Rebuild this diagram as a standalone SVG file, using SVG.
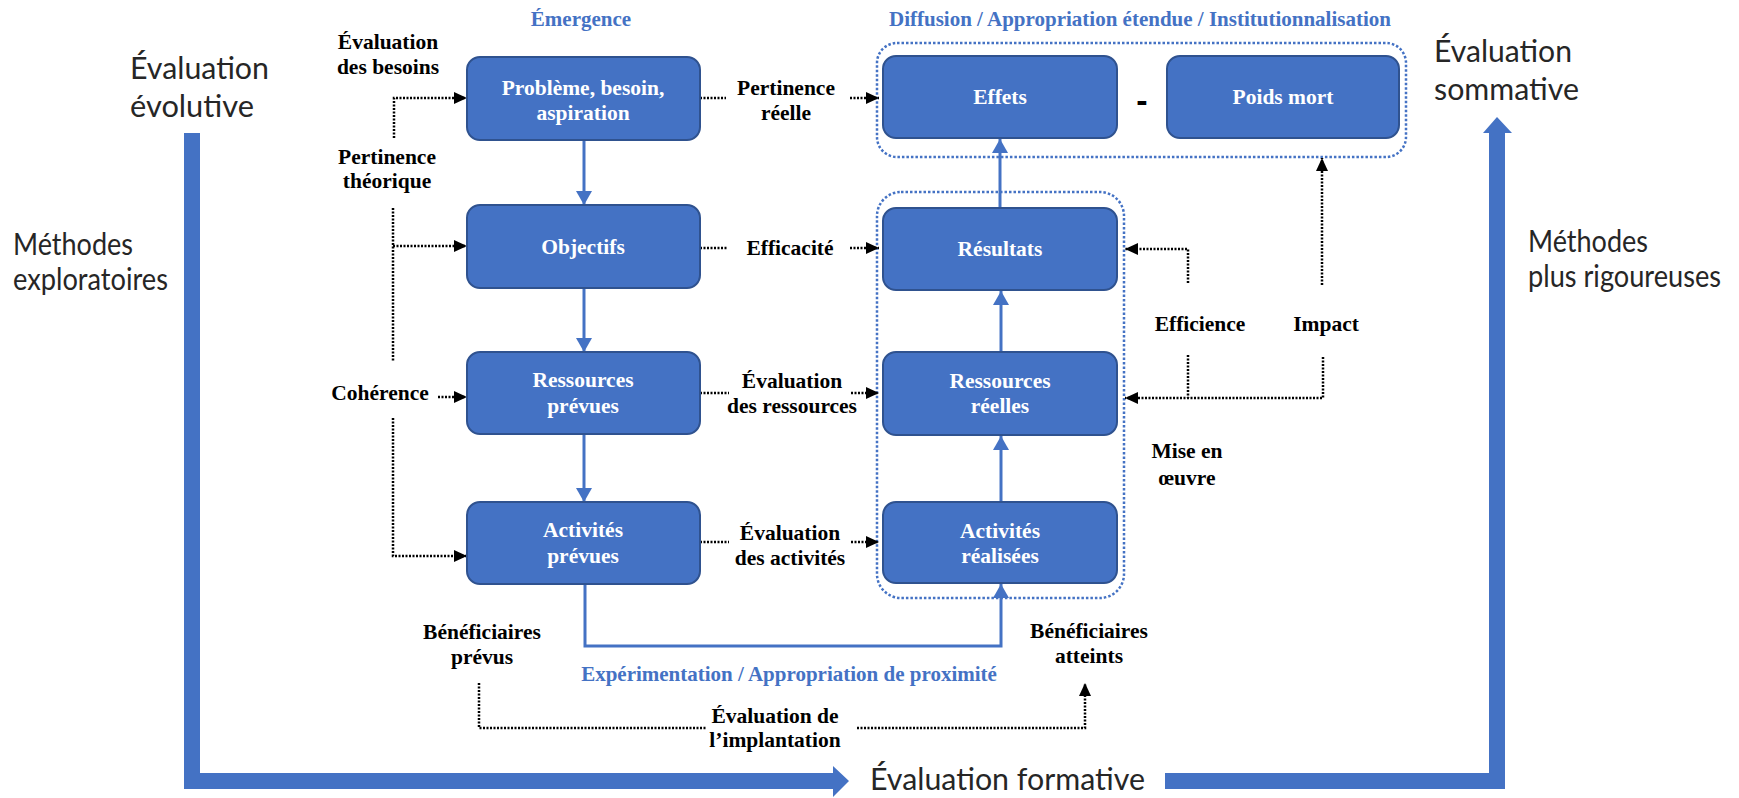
<svg xmlns="http://www.w3.org/2000/svg" width="1739" height="798" viewBox="0 0 1739 798">
<style>
.box{fill:#4472C4;stroke:#2F528F;stroke-width:2}
.bt{font-family:"Liberation Serif","Times New Roman",serif;font-weight:bold;font-size:21.5px;fill:#ffffff;text-anchor:middle}
.lb{font-family:"Liberation Serif","Times New Roman",serif;font-weight:bold;font-size:21.5px;fill:#000000;text-anchor:middle}
.tt{font-family:"Liberation Serif","Times New Roman",serif;font-weight:bold;font-size:21px;fill:#4472C4;text-anchor:middle}
.big{font-family:Lato,"Open Sans",sans-serif;font-size:30px;fill:#262626}
.dot{fill:none;stroke:#000;stroke-width:2.5;stroke-dasharray:2 1.5}
.cont{fill:none;stroke:#4472C4;stroke-width:2.5;stroke-dasharray:2.5 2}
.flow{fill:none;stroke:#4472C4;stroke-width:3}
.bigarrow{fill:#4472C4}
</style>
<defs>
<marker id="ak" viewBox="0 0 13 12" refX="13" refY="6" markerWidth="13" markerHeight="12" markerUnits="userSpaceOnUse" orient="auto"><path d="M0,0 L13,6 L0,12 Z" fill="#000"/></marker>
<marker id="ab" viewBox="0 0 14 16" refX="14" refY="8" markerWidth="14" markerHeight="16" markerUnits="userSpaceOnUse" orient="auto"><path d="M0,0 L14,8 L0,16 Z" fill="#4472C4"/></marker>
</defs>

<!-- big frame arrows -->
<g id="big-arrows">
<path class="bigarrow" d="M184,133 H200 V773 H833 V766 L849,781 L833,797 V789 H184 Z"/>
<path class="bigarrow" d="M1165,773 H1489 V133 H1483 L1497,117 L1512,133 H1505 V789 H1165 Z"/>
</g>

<g id="big-labels">
<text class="big" x="130" y="79" textLength="139" lengthAdjust="spacingAndGlyphs">Évaluation</text>
<text class="big" x="130" y="117" textLength="124" lengthAdjust="spacingAndGlyphs">évolutive</text>
<text class="big" x="13" y="255" textLength="120" lengthAdjust="spacingAndGlyphs">Méthodes</text>
<text class="big" x="13" y="290" textLength="155" lengthAdjust="spacingAndGlyphs">exploratoires</text>
<text class="big" x="1434" y="62" textLength="138" lengthAdjust="spacingAndGlyphs">Évaluation</text>
<text class="big" x="1434" y="100" textLength="145" lengthAdjust="spacingAndGlyphs">sommative</text>
<text class="big" x="1528" y="252" textLength="120" lengthAdjust="spacingAndGlyphs">Méthodes</text>
<text class="big" x="1528" y="287" textLength="193" lengthAdjust="spacingAndGlyphs">plus rigoureuses</text>
<text class="big" x="870" y="790" textLength="275" lengthAdjust="spacingAndGlyphs">Évaluation formative</text>
</g>

<g id="titles">
<text class="tt" x="581" y="26">Émergence</text>
<text class="tt" x="1140" y="26">Diffusion / Appropriation étendue / Institutionnalisation</text>
<text class="tt" x="789" y="681">Expérimentation / Appropriation de proximité</text>
</g>

<g id="containers">
<rect class="cont" x="877" y="43" width="529" height="114" rx="20"/>
<rect class="cont" x="877" y="192" width="247" height="406" rx="24"/>
</g>

<g id="connectors">
<path class="dot" d="M394,138 V98 H467" marker-end="url(#ak)"/>
<path class="dot" d="M393,208 V362"/>
<path class="dot" d="M393,246 H467" marker-end="url(#ak)"/>
<path class="dot" d="M438,397 H467" marker-end="url(#ak)"/>
<path class="dot" d="M393,418 V556 H467" marker-end="url(#ak)"/>
<path class="dot" d="M700,98 H726"/>
<path class="dot" d="M850,98 H879" marker-end="url(#ak)"/>
<path class="dot" d="M700,248 H728"/>
<path class="dot" d="M850,248 H879" marker-end="url(#ak)"/>
<path class="dot" d="M700,393 H729"/>
<path class="dot" d="M851,393 H879" marker-end="url(#ak)"/>
<path class="dot" d="M700,542 H729"/>
<path class="dot" d="M851,542 H879" marker-end="url(#ak)"/>
<path class="dot" d="M1188,283 V249 H1125" marker-end="url(#ak)"/>
<path class="dot" d="M1188,355 V398"/>
<path class="dot" d="M1323,357 V398 H1125" marker-end="url(#ak)"/>
<path class="dot" d="M1322,285 V158" marker-end="url(#ak)"/>
<path class="dot" d="M479,683 V728 H706"/>
<path class="dot" d="M857,728 H1085 V683" marker-end="url(#ak)"/>
<path class="flow" d="M584,140 V205" marker-end="url(#ab)"/>
<path class="flow" d="M584,288 V352" marker-end="url(#ab)"/>
<path class="flow" d="M584,434 V502" marker-end="url(#ab)"/>
<path class="flow" d="M585,584 V646 H1001 V584" marker-end="url(#ab)"/>
<path class="flow" d="M1001,502 V436" marker-end="url(#ab)"/>
<path class="flow" d="M1001,352 V291" marker-end="url(#ab)"/>
<path class="flow" d="M1000,208 V139" marker-end="url(#ab)"/>
</g>

<g id="node-probleme"><rect class="box" x="467" y="57" width="233" height="83" rx="13"/><text class="bt" x="583" y="95">Problème, besoin,</text><text class="bt" x="583" y="120">aspiration</text></g>
<g id="node-objectifs"><rect class="box" x="467" y="205" width="233" height="83" rx="13"/><text class="bt" x="583" y="254">Objectifs</text></g>
<g id="node-ressources-prevues"><rect class="box" x="467" y="352" width="233" height="82" rx="13"/><text class="bt" x="583" y="387">Ressources</text><text class="bt" x="583" y="413">prévues</text></g>
<g id="node-activites-prevues"><rect class="box" x="467" y="502" width="233" height="82" rx="13"/><text class="bt" x="583" y="537">Activités</text><text class="bt" x="583" y="563">prévues</text></g>
<g id="node-effets"><rect class="box" x="883" y="56" width="234" height="82" rx="13"/><text class="bt" x="1000" y="104">Effets</text></g>
<g id="node-poids-mort"><rect class="box" x="1167" y="56" width="232" height="82" rx="13"/><text class="bt" x="1283" y="104">Poids mort</text></g>
<g id="node-resultats"><rect class="box" x="883" y="208" width="234" height="82" rx="13"/><text class="bt" x="1000" y="256">Résultats</text></g>
<g id="node-ressources-reelles"><rect class="box" x="883" y="352" width="234" height="83" rx="13"/><text class="bt" x="1000" y="388">Ressources</text><text class="bt" x="1000" y="413">réelles</text></g>
<g id="node-activites-realisees"><rect class="box" x="883" y="502" width="234" height="81" rx="13"/><text class="bt" x="1000" y="538">Activités</text><text class="bt" x="1000" y="563">réalisées</text></g>

<g id="labels">
<text class="lb" x="388" y="49">Évaluation</text>
<text class="lb" x="388" y="74">des besoins</text>
<text class="lb" x="387" y="164">Pertinence</text>
<text class="lb" x="387" y="188">théorique</text>
<text class="lb" x="380" y="400">Cohérence</text>
<text class="lb" x="786" y="95">Pertinence</text>
<text class="lb" x="786" y="120">réelle</text>
<text class="lb" x="790" y="255">Efficacité</text>
<text class="lb" x="792" y="388">Évaluation</text>
<text class="lb" x="792" y="413">des ressources</text>
<text class="lb" x="790" y="540">Évaluation</text>
<text class="lb" x="790" y="565">des activités</text>
<text class="lb" x="1200" y="331">Efficience</text>
<text class="lb" x="1326" y="331">Impact</text>
<text class="lb" x="1187" y="458">Mise en</text>
<text class="lb" x="1187" y="485">œuvre</text>
<text class="lb" x="482" y="639">Bénéficiaires</text>
<text class="lb" x="482" y="664">prévus</text>
<text class="lb" x="1089" y="638">Bénéficiaires</text>
<text class="lb" x="1089" y="663">atteints</text>
<text class="lb" x="775" y="723">Évaluation de</text>
<text class="lb" x="775" y="747">l’implantation</text>
<text x="1142" y="112" style="font-family:'Liberation Sans',Arial,sans-serif;font-weight:bold;font-size:34px;fill:#000;text-anchor:middle">-</text>
</g>
</svg>
